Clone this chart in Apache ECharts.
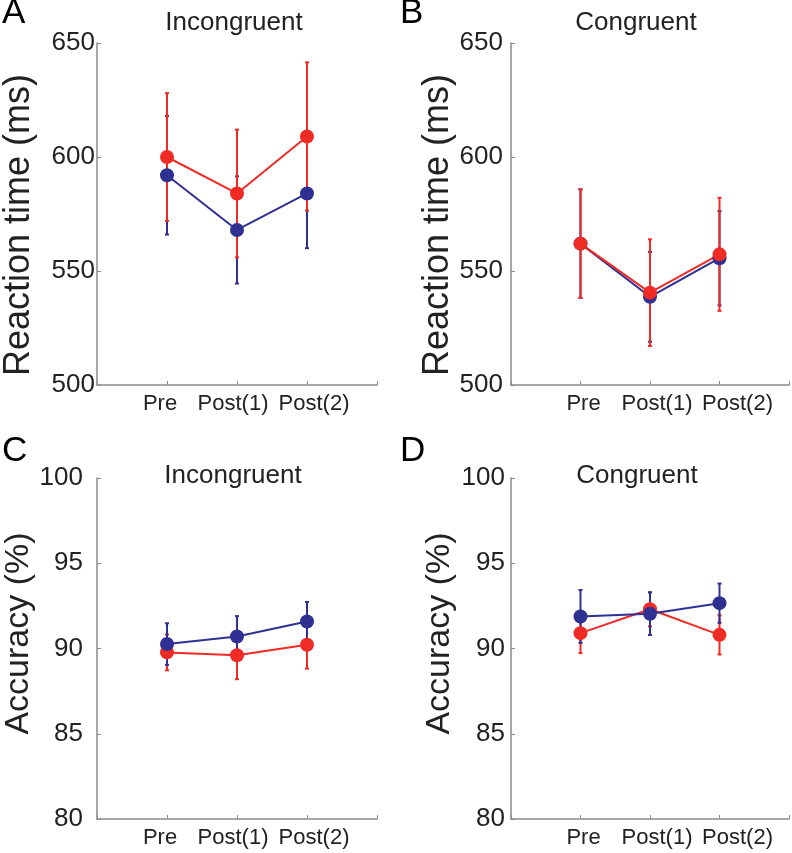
<!DOCTYPE html>
<html>
<head>
<meta charset="utf-8">
<script src="https://cdn.jsdelivr.net/npm/echarts@6/dist/echarts.min.js"></script>
<style>
html,body{margin:0;padding:0;background:#fff;}
#chart{width:792px;height:853px;}
</style>
</head>
<body>
<div id="chart"></div>
<script>
// ---------- data ----------
const categories = ['Pre', 'Post(1)', 'Post(2)'];
const panelLetters = ['A', 'B', 'C', 'D'];
const panelTitles = ['Incongruent', 'Congruent', 'Incongruent', 'Congruent'];
const rtTicks = [500, 550, 600, 650];
const accTicks = [80, 85, 90, 95, 100];

// A: reaction time, incongruent
const rtIncRed = [600, 584, 609];
const rtIncRedErr = [28, 28, 32.5];
const rtIncBlue = [592, 568, 584];
const rtIncBlueErr = [26, 23.5, 24];
// B: reaction time, congruent
const rtConRed = [562, 540.5, 557.3];
const rtConRedErr = [23.8, 23.4, 24.8];
const rtConBlue = [562, 538.7, 555.6];
const rtConBlueErr = [23.8, 19.7, 20.7];
// C: accuracy, incongruent
const accIncRed = [89.77, 89.6, 90.22];
const accIncRedErr = [1.05, 1.4, 1.4];
const accIncBlue = [90.26, 90.7, 91.58];
const accIncBlueErr = [1.22, 1.2, 1.15];
// D: accuracy, congruent
const accConRed = [90.9, 92.3, 90.8];
const accConRedErr = [1.17, 1.0, 1.15];
const accConBlue = [91.88, 92.04, 92.66];
const accConBlueErr = [1.55, 1.25, 1.15];

// ---------- styling ----------
const RED = '#ef2b25';
const BLUE = '#2f3192';
const AXIS = '#8a8a8a';
const TXT = '#222';
const FONT = "'Liberation Sans', Arial, Helvetica, sans-serif";

const grids = [
  {left: 97, top: 43, width: 280, height: 342},
  {left: 511, top: 43, width: 280, height: 342},
  {left: 97, top: 478, width: 280, height: 341},
  {left: 511, top: 478, width: 280, height: 341}
];

const panels = [
  {red: rtIncRed, redErr: rtIncRedErr, blue: rtIncBlue, blueErr: rtIncBlueErr, redOnTop: true},
  {red: rtConRed, redErr: rtConRedErr, blue: rtConBlue, blueErr: rtConBlueErr, redOnTop: true},
  {red: accIncRed, redErr: accIncRedErr, blue: accIncBlue, blueErr: accIncBlueErr, redOnTop: false},
  {red: accConRed, redErr: accConRedErr, blue: accConBlue, blueErr: accConBlueErr, redOnTop: false}
];

function pts(vals) { return vals.map((v, i) => [i + 1, v]); }
function errs(vals, e) { return vals.map((v, i) => [i + 1, v - e[i], v + e[i]]); }

function errorRender(color) {
  return function (params, api) {
    const x = api.value(0);
    const lo = api.coord([x, api.value(1)]);
    const hi = api.coord([x, api.value(2)]);
    const cap = 2;
    const style = {stroke: color, lineWidth: 2};
    return {
      type: 'group',
      children: [
        {type: 'line', shape: {x1: lo[0], y1: lo[1], x2: hi[0], y2: hi[1]}, style: style},
        {type: 'line', shape: {x1: lo[0] - cap, y1: lo[1], x2: lo[0] + cap, y2: lo[1]}, style: style},
        {type: 'line', shape: {x1: hi[0] - cap, y1: hi[1], x2: hi[0] + cap, y2: hi[1]}, style: style}
      ]
    };
  };
}

// horizontal nudges of the category labels (px), as laid out in the original figure
const labelNudges = [[-7, -4, 7], [3, 7, 18], [-7, -4, 7], [3, 7, 18]];

const xAxes = grids.map((g, i) => {
  const rich = {};
  labelNudges[i].forEach((d, k) => {
    rich['o' + k] = {
      fontSize: 22, color: TXT, fontFamily: FONT,
      padding: d >= 0 ? [0, 0, 0, 2 * d] : [0, -2 * d, 0, 0]
    };
  });
  return {
    type: 'value', gridIndex: i, min: 0, max: 4, interval: 1,
    axisLine: {lineStyle: {color: AXIS, width: 1.5}},
    axisTick: {inside: true, length: 4, lineStyle: {color: AXIS}},
    splitLine: {show: false},
    axisLabel: {
      formatter: v => {
        const k = v - 1;
        return (k >= 0 && k < categories.length) ? '{o' + k + '|' + categories[k] + '}' : '';
      },
      rich: rich,
      fontSize: 22, color: TXT, fontFamily: FONT, margin: 8
    }
  };
});

const yLabelMargins = [2, 8, 14, 6];
const nameGaps = [60, 51, 60, 54];
const yAxes = grids.map((g, i) => {
  const rt = i < 2;
  const ticks = rt ? rtTicks : accTicks;
  return {
    type: 'value', gridIndex: i,
    min: ticks[0], max: ticks[ticks.length - 1], interval: ticks[1] - ticks[0],
    axisLine: {show: true, lineStyle: {color: AXIS, width: 1.5}},
    axisTick: {show: true, inside: true, length: 4, lineStyle: {color: AXIS}},
    splitLine: {show: false},
    axisLabel: {fontSize: 26, color: TXT, fontFamily: FONT, margin: yLabelMargins[i]},
    name: rt ? 'Reaction time (ms)' : 'Accuracy (%)',
    nameLocation: 'middle',
    nameGap: nameGaps[i],
    nameTextStyle: {
      fontSize: rt ? 36 : 34, color: TXT, fontFamily: FONT,
      padding: rt ? [0, 22, 0, 0] : [0, 0, 0, 30]
    }
  };
});

const series = [];
panels.forEach((p, i) => {
  const mk = (vals, e, color, name) => ([
    {
      type: 'custom', name: name + ' error', xAxisIndex: i, yAxisIndex: i,
      renderItem: errorRender(color), data: errs(vals, e), silent: true
    },
    {
      type: 'line', name: name, xAxisIndex: i, yAxisIndex: i,
      data: pts(vals), symbol: 'circle', symbolSize: 14,
      itemStyle: {color: color}, lineStyle: {color: color, width: 2}
    }
  ]);
  const red = mk(p.red, p.redErr, RED, 'red');
  const blue = mk(p.blue, p.blueErr, BLUE, 'blue');
  if (p.redOnTop) series.push(...blue, ...red); else series.push(...red, ...blue);
});

const letterPos = [[2, -4], [400, -4], [2, 434], [400, 434]];
const titlePos = [[234, 10], [636, 10], [233, 463], [637, 463]];
const titles = [];
panelLetters.forEach((t, i) => titles.push({
  text: t, left: letterPos[i][0], top: letterPos[i][1],
  textStyle: {fontSize: 35, fontWeight: 'normal', color: '#000', fontFamily: FONT}, padding: 0
}));
panelTitles.forEach((t, i) => titles.push({
  text: t, left: titlePos[i][0], top: titlePos[i][1], textAlign: 'center',
  textStyle: {fontSize: 26, fontWeight: 'normal', color: TXT, fontFamily: FONT}, padding: 0
}));

const chart = echarts.init(document.getElementById('chart'), null, {renderer: 'canvas'});
chart.setOption({
  animation: false,
  backgroundColor: '#fff',
  title: titles,
  grid: grids,
  xAxis: xAxes,
  yAxis: yAxes,
  series: series
});
</script>
</body>
</html>
